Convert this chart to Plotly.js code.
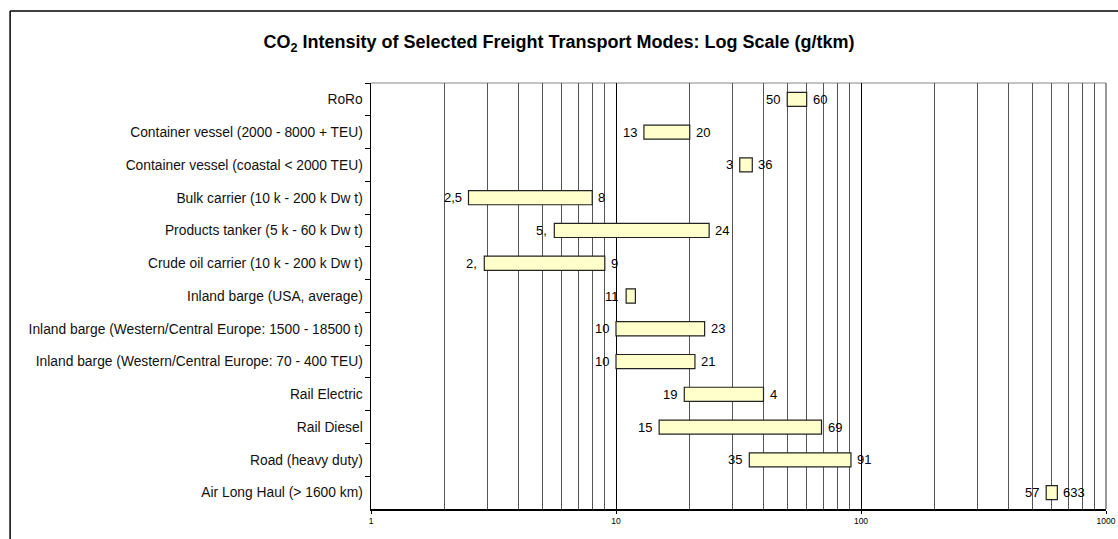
<!DOCTYPE html>
<html>
<head>
<meta charset="utf-8">
<script src="https://cdn.plot.ly/plotly-3.0.1.min.js"></script>
<style>
html,body{margin:0;padding:0;background:#fff;}
#chart{width:1118px;height:539px;}
</style>
</head>
<body>
<div id="chart"></div>
<script>
// ---- data ----
var categories = [
  "RoRo",
  "Container vessel (2000 - 8000 + TEU)",
  "Container vessel (coastal < 2000 TEU)",
  "Bulk carrier (10 k - 200 k Dw t)",
  "Products tanker (5 k - 60 k Dw t)",
  "Crude oil carrier (10 k - 200 k Dw t)",
  "Inland barge (USA, average)",
  "Inland barge (Western/Central Europe: 1500 - 18500 t)",
  "Inland barge (Western/Central Europe: 70 - 400 TEU)",
  "Rail Electric",
  "Rail Diesel",
  "Road (heavy duty)",
  "Air Long Haul (> 1600 km)"
];
var lowValues  = [50, 13, 32, 2.5, 5.6, 2.9, 11, 10, 10, 19, 15, 35, 570];
var highValues = [60, 20, 36, 8, 24, 9, 12, 23, 21, 40, 69, 91, 633];
var lowLabels  = ["50", "13", "3", "2,5", "5,", "2,", "11", "10", "10", "19", "15", "35", "57"];
var highLabels = ["60", "20", "36", "8", "24", "9", "", "23", "21", "4", "69", "91", "633"];
var tickValues = [1, 10, 100, 1000];
var tickLabels = ["1", "10", "100", "1000"];

// ---- chart ----
var spans = highValues.map(function (h, i) { return h - lowValues[i]; });

var barTrace = {
  type: "bar",
  orientation: "h",
  y: categories,
  x: spans,
  base: lowValues,
  width: 0.43,
  marker: { color: "#FFFFCC", line: { color: "#222", width: 1.2 } },
  hoverinfo: "skip",
  showlegend: false
};

var labelFont = { family: "Liberation Sans, Arial, sans-serif", size: 13, color: "#000" };
var annotations = [];
categories.forEach(function (c, i) {
  annotations.push({
    x: Math.log10(lowValues[i]), y: c, xref: "x", yref: "y",
    text: lowLabels[i], showarrow: false, xanchor: "right", xshift: -5,
    font: labelFont
  });
  if (highLabels[i] !== "") {
    annotations.push({
      x: Math.log10(highValues[i]), y: c, xref: "x", yref: "y",
      text: highLabels[i], showarrow: false, xanchor: "left", xshift: 4,
      font: labelFont
    });
  }
});

var L = 370.5, R = 12.3, T = 83, B = 29.5, W = 1118, H = 539;
var pw = W - L - R, ph = H - T - B;

var layout = {
  width: W,
  height: H,
  margin: { l: L, r: R, t: T, b: B, pad: 0 },
  paper_bgcolor: "#fff",
  plot_bgcolor: "#fff",
  font: { family: "Liberation Sans, Arial, sans-serif", color: "#000" },
  title: {
    text: "<b>CO<sub>2</sub> Intensity of Selected Freight Transport Modes: Log Scale (g/tkm)</b>",
    font: { family: "Liberation Sans, Arial, sans-serif", size: 18, color: "#000" },
    x: 0.5, xanchor: "center", xref: "container",
    y: 1 - 42 / H, yanchor: "middle", yref: "container"
  },
  xaxis: {
    type: "log",
    range: [0, 3],
    tickvals: tickValues,
    ticktext: tickLabels,
    tickfont: { size: 8.5, color: "#000" },
    ticks: "outside",
    ticklen: 3,
    tickcolor: "#000",
    showgrid: true,
    gridcolor: "#000",
    gridwidth: 1,
    showline: true,
    linecolor: "#000",
    linewidth: 1.5,
    zeroline: false,
    minor: { dtick: "D1", showgrid: true, gridcolor: "#555", gridwidth: 1, ticks: "" },
    fixedrange: true
  },
  yaxis: {
    type: "category",
    autorange: "reversed",
    tickson: "boundaries",
    ticks: "outside",
    ticklen: 5,
    tickcolor: "#000",
    ticklabelstandoff: 4,
    tickfont: { size: 13.8, color: "#111" },
    showline: true,
    linecolor: "#000",
    linewidth: 1.5,
    showgrid: false,
    zeroline: false,
    fixedrange: true
  },
  bargap: 0.57,
  annotations: annotations,
  shapes: [
    { type: "line", xref: "paper", yref: "paper", x0: 0, x1: 1, y0: 1, y1: 1,
      line: { color: "#888", width: 1 }, layer: "below" },
    { type: "line", xref: "paper", yref: "paper", x0: 1, x1: 1, y0: 0, y1: 1,
      line: { color: "#333", width: 1 }, layer: "below" },
    { type: "line", xref: "paper", yref: "paper",
      x0: (9.5 - L) / pw, x1: (W - L) / pw,
      y0: 1 + (T - 11) / ph, y1: 1 + (T - 11) / ph,
      line: { color: "#000", width: 1.5 } },
    { type: "line", xref: "paper", yref: "paper",
      x0: (9.5 - L) / pw, x1: (9.5 - L) / pw,
      y0: 1 + (T - 11) / ph, y1: -0.2,
      line: { color: "#000", width: 1.5 } }
  ]
};

Plotly.newPlot("chart", [barTrace], layout, { displayModeBar: false, staticPlot: true });
</script>
</body>
</html>
